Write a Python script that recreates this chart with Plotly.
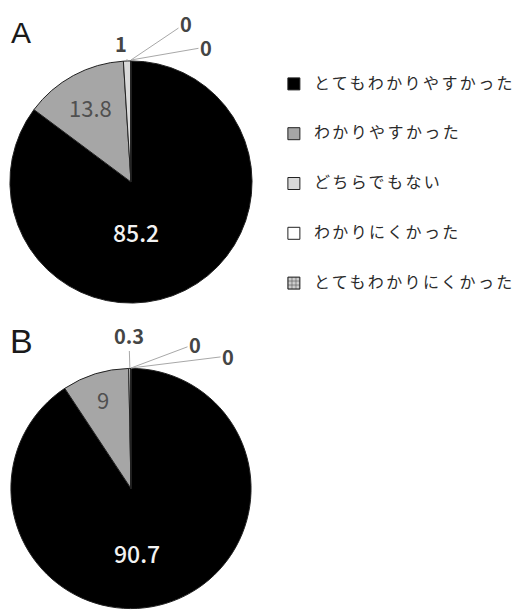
import math
import plotly.graph_objects as go

# ---------------- data ----------------
labels = ["とてもわかりやすかった", "わかりやすかった", "どちらでもない",
          "わかりにくかった", "とてもわかりにくかった"]
values_a = [85.2, 13.8, 1, 0, 0]
values_b = [90.7, 9, 0.3, 0, 0]
panel_letters = ["A", "B"]

# ---------------- style ----------------
W, H = 521, 610
colors = ["#000000", "#a6a6a6", "#d9d9d9", "#ffffff", "#d0d0d0"]
pattern_shapes = ["", "", "", "", "+"]
CJK = "Noto Sans CJK JP"

# pie boxes in pixels (left, top, right, bottom)
boxes = [(10, 60, 254, 304), (11, 368, 253, 609)]
legend_left_px = 276
legend_tops_px = [54, 358]
letter_pos = [(21, 32, 30), (22, 341, 34)]
# offsets (px) of the big label from the pie centre
big_label_shift = [(5, -50), (6, -64)]
# offsets (px) of outside labels from slice tip, for slices 2..4
outside_offsets = [[(-6, -17), (55, -37), (75, -13)],
                   [(-1, -33), (64, -24), (97, -12)]]


def legend_text(s):
    return ("\u00a0<br><span style='font-size:16px;letter-spacing:2.4px'>"
            + s + "</span><br>\u00a0")


fig = go.Figure()
annotations = []
for k, vals in enumerate([values_a, values_b]):
    l, t, r, b = boxes[k]
    texts = [f"{v:g}" for v in vals]
    fig.add_trace(go.Pie(
        labels=[legend_text(s) for s in labels],
        values=vals,
        text=texts,
        textinfo="text",
        textposition=["none", "inside", "none", "none", "none"],
        insidetextorientation="horizontal",
        insidetextfont=dict(family=CJK, size=22, color="#505050"),
        sort=False,
        direction="clockwise",
        rotation=0,
        marker=dict(colors=colors,
                    line=dict(color="#222222", width=1),
                    pattern=dict(shape=pattern_shapes, fgcolor="#555555",
                                 bgcolor="#d0d0d0", size=4, solidity=0.3)),
        domain=dict(x=[l / W, r / W], y=[1 - b / H, 1 - t / H]),
        legend="legend" if k == 0 else "legend2",
        hoverinfo="label+value",
        showlegend=True,
    ))
    cx, cy = (l + r) / 2, (t + b) / 2
    rad = min(r - l, b - t) / 2
    # big slice label
    dx, dy = big_label_shift[k]
    annotations.append(dict(
        x=cx / W, y=1 - cy / H, xref="paper", yref="paper",
        xanchor="center", yanchor="middle",
        text=texts[0], showarrow=False, xshift=dx, yshift=dy,
        font=dict(family=CJK, size=23, color="#f2f2f2", weight=500)))
    # outside labels with leader lines
    total = sum(vals)
    cum = 0
    for i, v in enumerate(vals):
        mid = 2 * math.pi * (cum + v / 2) / total
        cum += v
        if i < 2:
            continue
        tx = cx + rad * math.sin(mid)
        ty = cy - rad * math.cos(mid)
        ax, ay = outside_offsets[k][i - 2]
        annotations.append(dict(
            x=tx / W, y=1 - ty / H, xref="paper", yref="paper",
            xanchor="center", yanchor="middle",
            text=texts[i], showarrow=True, ax=ax, ay=ay,
            arrowhead=0, arrowwidth=1, arrowcolor="#a8a8a8", standoff=0,
            font=dict(family=CJK, size=20, color="#454545", weight=700)))
    lx, ly, ls = letter_pos[k]
    annotations.append(dict(
        x=lx / W, y=1 - ly / H, xref="paper", yref="paper",
        xanchor="center", yanchor="middle",
        text=panel_letters[k], showarrow=False,
        font=dict(family="Liberation Sans", size=ls, color="#1a1a1a")))

legend_common = dict(
    xanchor="left", yanchor="top", bgcolor="rgba(0,0,0,0)",
    font=dict(family=CJK, size=12, color="#2a2a2a"),
    itemclick=False, itemdoubleclick=False,
)
fig.update_layout(
    width=W, height=H,
    margin=dict(l=0, r=0, t=0, b=0),
    paper_bgcolor="white", plot_bgcolor="white",
    annotations=annotations,
    legend=dict(x=legend_left_px / W, y=1 - legend_tops_px[0] / H, **legend_common),
    legend2=dict(x=legend_left_px / W, y=1 - legend_tops_px[1] / H, **legend_common),
)

fig.write_html("out.html")
